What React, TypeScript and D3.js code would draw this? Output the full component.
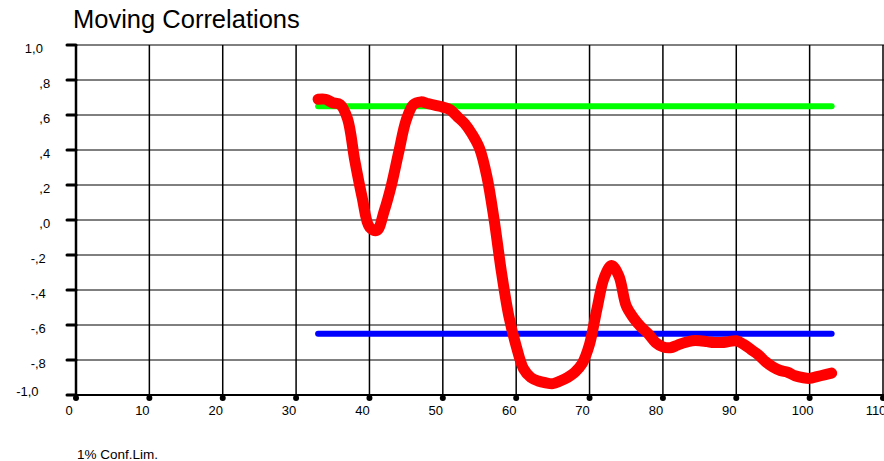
import * as d3 from "d3";
import { useEffect, useRef } from "react";

const lags = d3.range(33, 104);
const corr = [
  0.69, 0.69, 0.67, 0.66, 0.58, 0.34, 0.13, -0.04, -0.06, 0.05,
  0.2, 0.39, 0.57, 0.66, 0.675, 0.665, 0.655, 0.645, 0.63, 0.59,
  0.55, 0.49, 0.41, 0.25, 0.0, -0.3, -0.55, -0.72, -0.85, -0.9,
  -0.92, -0.93, -0.935, -0.92, -0.9, -0.87, -0.82, -0.71, -0.51, -0.33,
  -0.26, -0.32, -0.49, -0.56, -0.61, -0.65, -0.7, -0.725, -0.73, -0.715,
  -0.7, -0.69, -0.69, -0.695, -0.7, -0.7, -0.695, -0.69, -0.71, -0.74,
  -0.77, -0.81, -0.84, -0.86, -0.87, -0.89, -0.9, -0.905, -0.895, -0.885,
  -0.875,
];
const confUpper = 0.65;
const confLower = -0.65;
const xTicks = [0, 10, 20, 30, 40, 50, 60, 70, 80, 90, 100, 110];
const yTicks = [1, 0.8, 0.6, 0.4, 0.2, 0, -0.2, -0.4, -0.6, -0.8, -1];
const yLabels = ["1,0", ",8", ",6", ",4", ",2", ",0", "-,2", "-,4", "-,6", "-,8", "-1,0"];

export default function App() {
  const ref = useRef<SVGSVGElement>(null);
  const width = 884;
  const height = 461;

  useEffect(() => {
    const svg = d3.select(ref.current);
    svg.selectAll("*").remove();

    const x = d3.scaleLinear().domain([0, 110]).range([76, 883]);
    const y = d3.scaleLinear().domain([-1, 1]).range([395, 45]);
    const font = "Liberation Sans, Arial, sans-serif";

    svg.append("text")
      .attr("x", 73).attr("y", 28)
      .attr("font-family", font).attr("font-size", 25.5)
      .text("Moving Correlations");

    // grid
    svg.append("g").selectAll("line")
      .data(yTicks)
      .join("line")
      .attr("x1", x(0)).attr("x2", width)
      .attr("y1", d => y(d)).attr("y2", d => y(d))
      .attr("stroke", "#000").attr("stroke-width", 1);

    svg.append("g").selectAll("line")
      .data(xTicks.filter(d => d > 0))
      .join("line")
      .attr("x1", d => x(d)).attr("x2", d => x(d))
      .attr("y1", y(1)).attr("y2", y(-1))
      .attr("stroke", "#000").attr("stroke-width", 1.5);

    // axes
    svg.append("line")
      .attr("x1", x(0)).attr("x2", x(0)).attr("y1", y(1)).attr("y2", y(-1))
      .attr("stroke", "#000").attr("stroke-width", 2.5);
    svg.append("line")
      .attr("x1", x(0)).attr("x2", width).attr("y1", y(-1)).attr("y2", y(-1))
      .attr("stroke", "#000").attr("stroke-width", 2);

    svg.append("g").selectAll("line")
      .data(yTicks)
      .join("line")
      .attr("x1", 67).attr("x2", x(0))
      .attr("y1", d => y(d)).attr("y2", d => y(d))
      .attr("stroke", "#000").attr("stroke-width", 3).attr("stroke-linecap", "round");

    // y labels: the old chart pushes wider labels further left
    svg.append("g").selectAll("text")
      .data(yTicks)
      .join("text")
      .attr("y", d => Math.min(y(d) + 3, 391)).attr("dy", "0.35em")
      .attr("text-anchor", "end")
      .attr("font-family", font).attr("font-size", 13)
      .text((d, i) => yLabels[i])
      .each(function () {
        const t = this as SVGTextElement;
        t.setAttribute("x", String(61 - t.getComputedTextLength()));
      });

    svg.append("g").selectAll("circle")
      .data(xTicks)
      .join("circle")
      .attr("cx", d => x(d)).attr("cy", y(-1) + 3).attr("r", 3)
      .attr("fill", "#000");

    svg.append("g").selectAll("text")
      .data(xTicks)
      .join("text")
      .attr("x", d => x(d) - 7).attr("y", 415)
      .attr("text-anchor", "middle")
      .attr("font-family", font).attr("font-size", 13)
      .text(d => d);

    // confidence limits
    const xs = d3.extent(lags) as [number, number];
    svg.append("line")
      .attr("x1", x(xs[0])).attr("x2", x(xs[1]))
      .attr("y1", y(confUpper)).attr("y2", y(confUpper))
      .attr("stroke", "#00ff00").attr("stroke-width", 6).attr("stroke-linecap", "round");
    svg.append("line")
      .attr("x1", x(xs[0])).attr("x2", x(xs[1]))
      .attr("y1", y(confLower)).attr("y2", y(confLower))
      .attr("stroke", "#0000ff").attr("stroke-width", 6).attr("stroke-linecap", "round");

    const line = d3.line<number>()
      .x((d, i) => x(lags[i]))
      .y(d => y(d))
      .curve(d3.curveCatmullRom);

    svg.append("path")
      .datum(corr)
      .attr("d", line)
      .attr("fill", "none")
      .attr("stroke", "#ff0000").attr("stroke-width", 11)
      .attr("stroke-linecap", "round").attr("stroke-linejoin", "round");

    svg.append("text")
      .attr("x", 77).attr("y", 459)
      .attr("font-family", font).attr("font-size", 13.5)
      .text("1% Conf.Lim.");
  }, []);

  return (
    <svg
      ref={ref}
      width={width}
      height={height}
      style={{ position: "absolute", left: 0, top: 0, background: "#fff" }}
    />
  );
}
